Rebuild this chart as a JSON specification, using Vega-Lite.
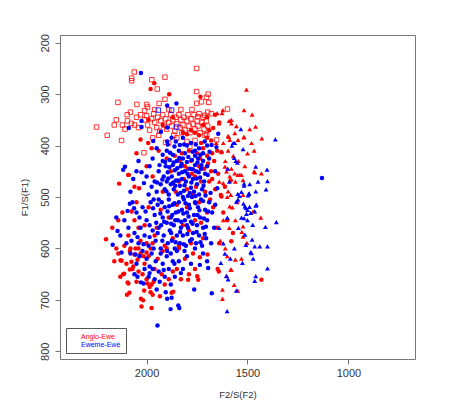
{
"$schema":"https://vega.github.io/schema/vega-lite/v6.json",
"width":355,"height":324,"autosize":"none",
"padding":{"left":60,"top":35,"right":37,"bottom":56},
"background":"white",
"config":{"font":"Liberation Sans","view":{"stroke":"#777","strokeWidth":1}},
"data":{"values":[
{"f2":2061,"f1":257,"g":"Anglo-Ewe","v":"i"},{"f2":2074,"f1":269,"g":"Anglo-Ewe","v":"i"},{"f2":2074,"f1":274,"g":"Anglo-Ewe","v":"i"},{"f2":1974,"f1":272,"g":"Anglo-Ewe","v":"i"},{"f2":1947,"f1":290,"g":"Anglo-Ewe","v":"i"},{"f2":1909,"f1":267,"g":"Anglo-Ewe","v":"i"},{"f2":1752,"f1":250,"g":"Anglo-Ewe","v":"i"},{"f2":1752,"f1":295,"g":"Anglo-Ewe","v":"i"},{"f2":1695,"f1":300,"g":"Anglo-Ewe","v":"i"},{"f2":1703,"f1":306,"g":"Anglo-Ewe","v":"i"},{"f2":1692,"f1":316,"g":"Anglo-Ewe","v":"i"},{"f2":1728,"f1":315,"g":"Anglo-Ewe","v":"i"},{"f2":1752,"f1":318,"g":"Anglo-Ewe","v":"i"},{"f2":2142,"f1":316,"g":"Anglo-Ewe","v":"i"},{"f2":2048,"f1":320,"g":"Anglo-Ewe","v":"i"},{"f2":2000,"f1":320,"g":"Anglo-Ewe","v":"i"},{"f2":1938,"f1":318,"g":"Anglo-Ewe","v":"i"},{"f2":1909,"f1":310,"g":"Anglo-Ewe","v":"i"},{"f2":1697,"f1":335,"g":"Anglo-Ewe","v":"i"},{"f2":1712,"f1":341,"g":"Anglo-Ewe","v":"i"},{"f2":1680,"f1":338,"g":"Anglo-Ewe","v":"i"},{"f2":1599,"f1":329,"g":"Anglo-Ewe","v":"i"},{"f2":2248,"f1":364,"g":"Anglo-Ewe","v":"i"},{"f2":2195,"f1":380,"g":"Anglo-Ewe","v":"i"},{"f2":2124,"f1":390,"g":"Anglo-Ewe","v":"i"},{"f2":2107,"f1":368,"g":"Anglo-Ewe","v":"i"},{"f2":2013,"f1":414,"g":"Anglo-Ewe","v":"i"},{"f2":1906,"f1":394,"g":"Anglo-Ewe","v":"i"},{"f2":1786,"f1":402,"g":"Anglo-Ewe","v":"i"},{"f2":1653,"f1":389,"g":"Anglo-Ewe","v":"i"},{"f2":1746,"f1":344,"g":"Anglo-Ewe","v":"i"},{"f2":1697,"f1":362,"g":"Anglo-Ewe","v":"i"},{"f2":1702,"f1":379,"g":"Anglo-Ewe","v":"i"},{"f2":2096,"f1":340,"g":"Anglo-Ewe","v":"i"},
{"f2":2095,"f1":352,"g":"Anglo-Ewe","v":"i"},{"f2":2075,"f1":357,"g":"Anglo-Ewe","v":"i"},{"f2":2060,"f1":360,"g":"Anglo-Ewe","v":"i"},{"f2":2050,"f1":345,"g":"Anglo-Ewe","v":"i"},{"f2":2040,"f1":365,"g":"Anglo-Ewe","v":"i"},{"f2":2030,"f1":340,"g":"Anglo-Ewe","v":"i"},{"f2":2010,"f1":350,"g":"Anglo-Ewe","v":"i"},{"f2":2000,"f1":342,"g":"Anglo-Ewe","v":"i"},{"f2":1995,"f1":360,"g":"Anglo-Ewe","v":"i"},{"f2":1985,"f1":370,"g":"Anglo-Ewe","v":"i"},{"f2":1975,"f1":348,"g":"Anglo-Ewe","v":"i"},{"f2":1965,"f1":338,"g":"Anglo-Ewe","v":"i"},{"f2":1960,"f1":355,"g":"Anglo-Ewe","v":"i"},{"f2":1950,"f1":365,"g":"Anglo-Ewe","v":"i"},{"f2":1945,"f1":345,"g":"Anglo-Ewe","v":"i"},{"f2":1935,"f1":372,"g":"Anglo-Ewe","v":"i"},{"f2":1930,"f1":352,"g":"Anglo-Ewe","v":"i"},{"f2":1920,"f1":340,"g":"Anglo-Ewe","v":"i"},{"f2":1915,"f1":360,"g":"Anglo-Ewe","v":"i"},{"f2":1905,"f1":348,"g":"Anglo-Ewe","v":"i"},{"f2":1900,"f1":368,"g":"Anglo-Ewe","v":"i"},{"f2":1890,"f1":355,"g":"Anglo-Ewe","v":"i"},{"f2":1880,"f1":340,"g":"Anglo-Ewe","v":"i"},{"f2":1875,"f1":362,"g":"Anglo-Ewe","v":"i"},{"f2":1870,"f1":350,"g":"Anglo-Ewe","v":"i"},{"f2":1860,"f1":372,"g":"Anglo-Ewe","v":"i"},{"f2":1855,"f1":345,"g":"Anglo-Ewe","v":"i"},{"f2":1850,"f1":358,"g":"Anglo-Ewe","v":"i"},{"f2":1840,"f1":340,"g":"Anglo-Ewe","v":"i"},{"f2":1835,"f1":365,"g":"Anglo-Ewe","v":"i"},{"f2":1830,"f1":350,"g":"Anglo-Ewe","v":"i"},{"f2":1820,"f1":360,"g":"Anglo-Ewe","v":"i"},{"f2":1815,"f1":345,"g":"Anglo-Ewe","v":"i"},{"f2":1810,"f1":370,"g":"Anglo-Ewe","v":"i"},{"f2":1800,"f1":352,"g":"Anglo-Ewe","v":"i"},{"f2":1795,"f1":340,"g":"Anglo-Ewe","v":"i"},{"f2":1790,"f1":362,"g":"Anglo-Ewe","v":"i"},{"f2":1785,"f1":375,"g":"Anglo-Ewe","v":"i"},{"f2":1780,"f1":348,"g":"Anglo-Ewe","v":"i"},{"f2":1770,"f1":358,"g":"Anglo-Ewe","v":"i"},{"f2":1765,"f1":340,"g":"Anglo-Ewe","v":"i"},{"f2":1760,"f1":368,"g":"Anglo-Ewe","v":"i"},{"f2":1750,"f1":352,"g":"Anglo-Ewe","v":"i"},{"f2":1745,"f1":362,"g":"Anglo-Ewe","v":"i"},{"f2":1740,"f1":338,"g":"Anglo-Ewe","v":"i"},{"f2":1735,"f1":375,"g":"Anglo-Ewe","v":"i"},{"f2":1725,"f1":355,"g":"Anglo-Ewe","v":"i"},{"f2":1720,"f1":345,"g":"Anglo-Ewe","v":"i"},{"f2":1715,"f1":368,"g":"Anglo-Ewe","v":"i"},{"f2":1710,"f1":380,"g":"Anglo-Ewe","v":"i"},{"f2":1705,"f1":352,"g":"Anglo-Ewe","v":"i"},{"f2":1960,"f1":330,"g":"Anglo-Ewe","v":"i"},{"f2":1890,"f1":330,"g":"Anglo-Ewe","v":"i"},{"f2":1830,"f1":330,"g":"Anglo-Ewe","v":"i"},{"f2":1775,"f1":330,"g":"Anglo-Ewe","v":"i"},{"f2":2080,"f1":335,"g":"Anglo-Ewe","v":"i"},{"f2":2010,"f1":332,"g":"Anglo-Ewe","v":"i"},{"f2":1850,"f1":385,"g":"Anglo-Ewe","v":"i"},{"f2":1800,"f1":392,"g":"Anglo-Ewe","v":"i"},{"f2":1760,"f1":390,"g":"Anglo-Ewe","v":"i"},{"f2":1890,"f1":395,"g":"Anglo-Ewe","v":"i"},{"f2":2150,"f1":350,"g":"Anglo-Ewe","v":"i"},{"f2":2160,"f1":360,"g":"Anglo-Ewe","v":"i"},{"f2":2120,"f1":360,"g":"Anglo-Ewe","v":"i"},{"f2":1995,"f1":325,"g":"Anglo-Ewe","v":"i"},{"f2":1825,"f1":375,"g":"Anglo-Ewe","v":"i"},{"f2":1865,"f1":380,"g":"Anglo-Ewe","v":"i"},{"f2":1940,"f1":380,"g":"Anglo-Ewe","v":"i"},{"f2":1970,"f1":385,"g":"Anglo-Ewe","v":"i"},
{"f2":1942,"f1":331,"g":"Eweme-Ewe","v":"i"},{"f2":1876,"f1":331,"g":"Eweme-Ewe","v":"i"},{"f2":1851,"f1":364,"g":"Eweme-Ewe","v":"i"},
{"f2":1962,"f1":279,"g":"Anglo-Ewe","v":"e"},{"f2":1888,"f1":300,"g":"Anglo-Ewe","v":"e"},{"f2":1733,"f1":305,"g":"Anglo-Ewe","v":"e"},{"f2":1980,"f1":290,"g":"Anglo-Ewe","v":"e"},{"f2":2050,"f1":415,"g":"Anglo-Ewe","v":"e"},{"f2":1992,"f1":395,"g":"Anglo-Ewe","v":"e"},{"f2":1975,"f1":405,"g":"Anglo-Ewe","v":"e"},{"f2":2030,"f1":388,"g":"Anglo-Ewe","v":"e"},{"f2":2091,"f1":457,"g":"Anglo-Ewe","v":"e"},{"f2":2136,"f1":474,"g":"Anglo-Ewe","v":"e"},{"f2":2037,"f1":483,"g":"Anglo-Ewe","v":"e"},{"f2":2088,"f1":457,"g":"Anglo-Ewe","v":"e"},{"f2":1670,"f1":366,"g":"Anglo-Ewe","v":"e"},{"f2":1700,"f1":345,"g":"Anglo-Ewe","v":"e"},{"f2":1720,"f1":360,"g":"Anglo-Ewe","v":"e"},{"f2":1690,"f1":370,"g":"Anglo-Ewe","v":"e"},{"f2":1740,"f1":380,"g":"Anglo-Ewe","v":"e"},{"f2":1760,"f1":375,"g":"Anglo-Ewe","v":"e"},{"f2":1780,"f1":370,"g":"Anglo-Ewe","v":"e"},{"f2":1700,"f1":385,"g":"Anglo-Ewe","v":"e"},{"f2":1680,"f1":390,"g":"Anglo-Ewe","v":"e"},{"f2":1730,"f1":395,"g":"Anglo-Ewe","v":"e"},{"f2":1800,"f1":378,"g":"Anglo-Ewe","v":"e"},{"f2":1820,"f1":375,"g":"Anglo-Ewe","v":"e"},{"f2":1640,"f1":355,"g":"Anglo-Ewe","v":"e"},{"f2":1660,"f1":340,"g":"Anglo-Ewe","v":"e"},{"f2":1920,"f1":360,"g":"Anglo-Ewe","v":"e"},{"f2":1870,"f1":345,"g":"Anglo-Ewe","v":"e"},{"f2":1990,"f1":350,"g":"Anglo-Ewe","v":"e"},
{"f2":1650,"f1":410,"g":"Anglo-Ewe","v":"e"},{"f2":1665,"f1":430,"g":"Anglo-Ewe","v":"e"},{"f2":1680,"f1":450,"g":"Anglo-Ewe","v":"e"},{"f2":1690,"f1":470,"g":"Anglo-Ewe","v":"e"},{"f2":1700,"f1":420,"g":"Anglo-Ewe","v":"e"},{"f2":1710,"f1":490,"g":"Anglo-Ewe","v":"e"},{"f2":1720,"f1":405,"g":"Anglo-Ewe","v":"e"},{"f2":1730,"f1":470,"g":"Anglo-Ewe","v":"e"},{"f2":1740,"f1":440,"g":"Anglo-Ewe","v":"e"},{"f2":1750,"f1":415,"g":"Anglo-Ewe","v":"e"},{"f2":1760,"f1":460,"g":"Anglo-Ewe","v":"e"},{"f2":1770,"f1":495,"g":"Anglo-Ewe","v":"e"},{"f2":1780,"f1":430,"g":"Anglo-Ewe","v":"e"},{"f2":1790,"f1":410,"g":"Anglo-Ewe","v":"e"},{"f2":1800,"f1":485,"g":"Anglo-Ewe","v":"e"},{"f2":1810,"f1":440,"g":"Anglo-Ewe","v":"e"},{"f2":1825,"f1":415,"g":"Anglo-Ewe","v":"e"},{"f2":1840,"f1":470,"g":"Anglo-Ewe","v":"e"},{"f2":1860,"f1":420,"g":"Anglo-Ewe","v":"e"},{"f2":1880,"f1":450,"g":"Anglo-Ewe","v":"e"},{"f2":1900,"f1":425,"g":"Anglo-Ewe","v":"e"},{"f2":1920,"f1":490,"g":"Anglo-Ewe","v":"e"},{"f2":1940,"f1":410,"g":"Anglo-Ewe","v":"e"},{"f2":1970,"f1":460,"g":"Anglo-Ewe","v":"e"},{"f2":2000,"f1":440,"g":"Anglo-Ewe","v":"e"},{"f2":2060,"f1":480,"g":"Anglo-Ewe","v":"e"},{"f2":1632,"f1":496,"g":"Anglo-Ewe","v":"e"},{"f2":1629,"f1":499,"g":"Anglo-Ewe","v":"e"},{"f2":1612,"f1":480,"g":"Anglo-Ewe","v":"e"},{"f2":1583,"f1":468,"g":"Anglo-Ewe","v":"e"},{"f2":1629,"f1":413,"g":"Anglo-Ewe","v":"e"},{"f2":1645,"f1":455,"g":"Anglo-Ewe","v":"e"},{"f2":1660,"f1":485,"g":"Anglo-Ewe","v":"e"},{"f2":1675,"f1":415,"g":"Anglo-Ewe","v":"e"},{"f2":1695,"f1":435,"g":"Anglo-Ewe","v":"e"},{"f2":1715,"f1":445,"g":"Anglo-Ewe","v":"e"},{"f2":1735,"f1":425,"g":"Anglo-Ewe","v":"e"},{"f2":1755,"f1":480,"g":"Anglo-Ewe","v":"e"},{"f2":1775,"f1":455,"g":"Anglo-Ewe","v":"e"},{"f2":1795,"f1":445,"g":"Anglo-Ewe","v":"e"},{"f2":1815,"f1":465,"g":"Anglo-Ewe","v":"e"},{"f2":1835,"f1":430,"g":"Anglo-Ewe","v":"e"},{"f2":1855,"f1":490,"g":"Anglo-Ewe","v":"e"},{"f2":1675,"f1":465,"g":"Anglo-Ewe","v":"e"},
{"f2":1700,"f1":530,"g":"Anglo-Ewe","v":"e"},{"f2":1720,"f1":580,"g":"Anglo-Ewe","v":"e"},{"f2":1740,"f1":510,"g":"Anglo-Ewe","v":"e"},{"f2":1760,"f1":545,"g":"Anglo-Ewe","v":"e"},{"f2":1780,"f1":590,"g":"Anglo-Ewe","v":"e"},{"f2":1800,"f1":520,"g":"Anglo-Ewe","v":"e"},{"f2":1820,"f1":555,"g":"Anglo-Ewe","v":"e"},{"f2":1850,"f1":515,"g":"Anglo-Ewe","v":"e"},{"f2":1870,"f1":580,"g":"Anglo-Ewe","v":"e"},{"f2":1890,"f1":540,"g":"Anglo-Ewe","v":"e"},{"f2":1910,"f1":595,"g":"Anglo-Ewe","v":"e"},{"f2":1930,"f1":525,"g":"Anglo-Ewe","v":"e"},{"f2":1950,"f1":560,"g":"Anglo-Ewe","v":"e"},{"f2":1970,"f1":590,"g":"Anglo-Ewe","v":"e"},{"f2":1990,"f1":520,"g":"Anglo-Ewe","v":"e"},{"f2":2010,"f1":555,"g":"Anglo-Ewe","v":"e"},{"f2":2030,"f1":585,"g":"Anglo-Ewe","v":"e"},{"f2":2050,"f1":510,"g":"Anglo-Ewe","v":"e"},{"f2":2074,"f1":528,"g":"Anglo-Ewe","v":"e"},{"f2":2060,"f1":545,"g":"Anglo-Ewe","v":"e"},{"f2":2090,"f1":575,"g":"Anglo-Ewe","v":"e"},{"f2":2110,"f1":595,"g":"Anglo-Ewe","v":"e"},{"f2":2120,"f1":530,"g":"Anglo-Ewe","v":"e"},{"f2":1650,"f1":560,"g":"Anglo-Ewe","v":"e"},{"f2":1670,"f1":520,"g":"Anglo-Ewe","v":"e"},{"f2":1640,"f1":590,"g":"Anglo-Ewe","v":"e"},{"f2":1620,"f1":530,"g":"Anglo-Ewe","v":"e"},{"f2":1600,"f1":545,"g":"Anglo-Ewe","v":"e"},{"f2":1572,"f1":570,"g":"Anglo-Ewe","v":"e"},{"f2":1580,"f1":586,"g":"Anglo-Ewe","v":"e"},{"f2":1685,"f1":505,"g":"Anglo-Ewe","v":"e"},{"f2":1730,"f1":550,"g":"Anglo-Ewe","v":"e"},{"f2":1790,"f1":565,"g":"Anglo-Ewe","v":"e"},{"f2":1840,"f1":595,"g":"Anglo-Ewe","v":"e"},{"f2":1960,"f1":575,"g":"Anglo-Ewe","v":"e"},{"f2":2000,"f1":590,"g":"Anglo-Ewe","v":"e"},{"f2":2040,"f1":560,"g":"Anglo-Ewe","v":"e"},{"f2":2080,"f1":600,"g":"Anglo-Ewe","v":"e"},{"f2":2170,"f1":560,"g":"Anglo-Ewe","v":"e"},{"f2":2140,"f1":545,"g":"Anglo-Ewe","v":"e"},
{"f2":2201,"f1":582,"g":"Anglo-Ewe","v":"e"},{"f2":2129,"f1":623,"g":"Anglo-Ewe","v":"e"},{"f2":2116,"f1":650,"g":"Anglo-Ewe","v":"e"},{"f2":2094,"f1":666,"g":"Anglo-Ewe","v":"e"},{"f2":2097,"f1":690,"g":"Anglo-Ewe","v":"e"},{"f2":2085,"f1":686,"g":"Anglo-Ewe","v":"e"},{"f2":2028,"f1":698,"g":"Anglo-Ewe","v":"e"},{"f2":2025,"f1":713,"g":"Anglo-Ewe","v":"e"},{"f2":1975,"f1":716,"g":"Anglo-Ewe","v":"e"},{"f2":1934,"f1":693,"g":"Anglo-Ewe","v":"e"},{"f2":1876,"f1":686,"g":"Anglo-Ewe","v":"e"},{"f2":1794,"f1":661,"g":"Anglo-Ewe","v":"e"},{"f2":2111,"f1":649,"g":"Anglo-Ewe","v":"e"},{"f2":2083,"f1":641,"g":"Anglo-Ewe","v":"e"},{"f2":2066,"f1":635,"g":"Anglo-Ewe","v":"e"},{"f2":2012,"f1":682,"g":"Anglo-Ewe","v":"e"},{"f2":1975,"f1":670,"g":"Anglo-Ewe","v":"e"},{"f2":1965,"f1":665,"g":"Anglo-Ewe","v":"e"},{"f2":1985,"f1":675,"g":"Anglo-Ewe","v":"e"},{"f2":1995,"f1":668,"g":"Anglo-Ewe","v":"e"},{"f2":1970,"f1":690,"g":"Anglo-Ewe","v":"e"},{"f2":1980,"f1":685,"g":"Anglo-Ewe","v":"e"},{"f2":2017,"f1":701,"g":"Anglo-Ewe","v":"e"},{"f2":1868,"f1":684,"g":"Anglo-Ewe","v":"e"},{"f2":1749,"f1":654,"g":"Anglo-Ewe","v":"e"},{"f2":1744,"f1":661,"g":"Anglo-Ewe","v":"e"},{"f2":1736,"f1":617,"g":"Anglo-Ewe","v":"e"},{"f2":1698,"f1":612,"g":"Anglo-Ewe","v":"e"},{"f2":1642,"f1":645,"g":"Anglo-Ewe","v":"e"},{"f2":1648,"f1":640,"g":"Anglo-Ewe","v":"e"},{"f2":2000,"f1":608,"g":"Anglo-Ewe","v":"e"},{"f2":2015,"f1":615,"g":"Anglo-Ewe","v":"e"},{"f2":2030,"f1":610,"g":"Anglo-Ewe","v":"e"},{"f2":2045,"f1":622,"g":"Anglo-Ewe","v":"e"},{"f2":2060,"f1":612,"g":"Anglo-Ewe","v":"e"},{"f2":2075,"f1":626,"g":"Anglo-Ewe","v":"e"},{"f2":2083,"f1":605,"g":"Anglo-Ewe","v":"e"},{"f2":2040,"f1":600,"g":"Anglo-Ewe","v":"e"},{"f2":2010,"f1":630,"g":"Anglo-Ewe","v":"e"},{"f2":1990,"f1":615,"g":"Anglo-Ewe","v":"e"},{"f2":1980,"f1":600,"g":"Anglo-Ewe","v":"e"},{"f2":2055,"f1":600,"g":"Anglo-Ewe","v":"e"},{"f2":2070,"f1":640,"g":"Anglo-Ewe","v":"e"},{"f2":2040,"f1":645,"g":"Anglo-Ewe","v":"e"},{"f2":2020,"f1":650,"g":"Anglo-Ewe","v":"e"},{"f2":2000,"f1":660,"g":"Anglo-Ewe","v":"e"},{"f2":2050,"f1":665,"g":"Anglo-Ewe","v":"e"},{"f2":2100,"f1":630,"g":"Anglo-Ewe","v":"e"},{"f2":2140,"f1":610,"g":"Anglo-Ewe","v":"e"},{"f2":2150,"f1":600,"g":"Anglo-Ewe","v":"e"},{"f2":2160,"f1":625,"g":"Anglo-Ewe","v":"e"},{"f2":2130,"f1":655,"g":"Anglo-Ewe","v":"e"},{"f2":2090,"f1":668,"g":"Anglo-Ewe","v":"e"},{"f2":1960,"f1":640,"g":"Anglo-Ewe","v":"e"},{"f2":1945,"f1":620,"g":"Anglo-Ewe","v":"e"},{"f2":1925,"f1":650,"g":"Anglo-Ewe","v":"e"},{"f2":1910,"f1":670,"g":"Anglo-Ewe","v":"e"},{"f2":1890,"f1":660,"g":"Anglo-Ewe","v":"e"},{"f2":1870,"f1":645,"g":"Anglo-Ewe","v":"e"},{"f2":1850,"f1":640,"g":"Anglo-Ewe","v":"e"},{"f2":1830,"f1":660,"g":"Anglo-Ewe","v":"e"},{"f2":1920,"f1":605,"g":"Anglo-Ewe","v":"e"},{"f2":1900,"f1":600,"g":"Anglo-Ewe","v":"e"},{"f2":1840,"f1":600,"g":"Anglo-Ewe","v":"e"},{"f2":1810,"f1":620,"g":"Anglo-Ewe","v":"e"},{"f2":1790,"f1":650,"g":"Anglo-Ewe","v":"e"},{"f2":1770,"f1":610,"g":"Anglo-Ewe","v":"e"},{"f2":1760,"f1":640,"g":"Anglo-Ewe","v":"e"},{"f2":2124,"f1":624,"g":"Anglo-Ewe","v":"e"},{"f2":1431,"f1":661,"g":"Anglo-Ewe","v":"e"},
{"f2":1505,"f1":291,"g":"Anglo-Ewe","v":"a"},{"f2":1517,"f1":331,"g":"Anglo-Ewe","v":"a"},{"f2":1477,"f1":340,"g":"Anglo-Ewe","v":"a"},{"f2":1460,"f1":363,"g":"Anglo-Ewe","v":"a"},{"f2":1489,"f1":368,"g":"Anglo-Ewe","v":"a"},{"f2":1429,"f1":386,"g":"Anglo-Ewe","v":"a"},{"f2":1467,"f1":410,"g":"Anglo-Ewe","v":"a"},{"f2":1563,"f1":376,"g":"Anglo-Ewe","v":"a"},{"f2":1596,"f1":381,"g":"Anglo-Ewe","v":"a"},{"f2":1588,"f1":389,"g":"Anglo-Ewe","v":"a"},{"f2":1547,"f1":389,"g":"Anglo-Ewe","v":"a"},{"f2":1596,"f1":410,"g":"Anglo-Ewe","v":"a"},{"f2":1629,"f1":412,"g":"Anglo-Ewe","v":"a"},{"f2":1641,"f1":357,"g":"Anglo-Ewe","v":"a"},{"f2":1650,"f1":337,"g":"Anglo-Ewe","v":"a"},{"f2":1626,"f1":337,"g":"Anglo-Ewe","v":"a"},{"f2":1591,"f1":352,"g":"Anglo-Ewe","v":"a"},{"f2":1580,"f1":357,"g":"Anglo-Ewe","v":"a"},{"f2":1517,"f1":384,"g":"Anglo-Ewe","v":"a"},{"f2":1467,"f1":450,"g":"Anglo-Ewe","v":"a"},{"f2":1431,"f1":454,"g":"Anglo-Ewe","v":"a"},{"f2":1464,"f1":452,"g":"Anglo-Ewe","v":"a"},{"f2":1538,"f1":457,"g":"Anglo-Ewe","v":"a"},{"f2":1522,"f1":467,"g":"Anglo-Ewe","v":"a"},{"f2":1522,"f1":496,"g":"Anglo-Ewe","v":"a"},{"f2":1513,"f1":440,"g":"Anglo-Ewe","v":"a"},{"f2":1434,"f1":540,"g":"Anglo-Ewe","v":"a"},{"f2":1522,"f1":557,"g":"Anglo-Ewe","v":"a"},{"f2":1528,"f1":568,"g":"Anglo-Ewe","v":"a"},{"f2":1522,"f1":577,"g":"Anglo-Ewe","v":"a"},{"f2":1503,"f1":589,"g":"Anglo-Ewe","v":"a"},{"f2":1580,"f1":641,"g":"Anglo-Ewe","v":"a"},{"f2":1566,"f1":671,"g":"Anglo-Ewe","v":"a"},{"f2":1548,"f1":682,"g":"Anglo-Ewe","v":"a"},{"f2":1624,"f1":680,"g":"Anglo-Ewe","v":"a"},{"f2":1624,"f1":698,"g":"Anglo-Ewe","v":"a"},{"f2":1583,"f1":641,"g":"Anglo-Ewe","v":"a"},{"f2":1560,"f1":622,"g":"Anglo-Ewe","v":"a"},{"f2":1530,"f1":620,"g":"Anglo-Ewe","v":"a"},{"f2":1604,"f1":653,"g":"Anglo-Ewe","v":"a"},{"f2":1610,"f1":430,"g":"Anglo-Ewe","v":"a"},{"f2":1580,"f1":445,"g":"Anglo-Ewe","v":"a"},{"f2":1560,"f1":470,"g":"Anglo-Ewe","v":"a"},{"f2":1600,"f1":500,"g":"Anglo-Ewe","v":"a"},{"f2":1575,"f1":520,"g":"Anglo-Ewe","v":"a"},{"f2":1550,"f1":510,"g":"Anglo-Ewe","v":"a"},{"f2":1620,"f1":545,"g":"Anglo-Ewe","v":"a"},{"f2":1590,"f1":560,"g":"Anglo-Ewe","v":"a"},{"f2":1560,"f1":545,"g":"Anglo-Ewe","v":"a"},{"f2":1640,"f1":470,"g":"Anglo-Ewe","v":"a"},{"f2":1655,"f1":395,"g":"Anglo-Ewe","v":"a"},{"f2":1620,"f1":395,"g":"Anglo-Ewe","v":"a"},{"f2":1570,"f1":420,"g":"Anglo-Ewe","v":"a"},{"f2":1545,"f1":430,"g":"Anglo-Ewe","v":"a"},{"f2":1500,"f1":415,"g":"Anglo-Ewe","v":"a"},{"f2":1480,"f1":395,"g":"Anglo-Ewe","v":"a"},{"f2":1580,"f1":350,"g":"Anglo-Ewe","v":"a"},{"f2":1555,"f1":362,"g":"Anglo-Ewe","v":"a"},{"f2":1593,"f1":383,"g":"Anglo-Ewe","v":"a"},{"f2":1612,"f1":441,"g":"Anglo-Ewe","v":"a"},{"f2":1604,"f1":450,"g":"Anglo-Ewe","v":"a"},{"f2":1588,"f1":460,"g":"Anglo-Ewe","v":"a"},{"f2":1563,"f1":454,"g":"Anglo-Ewe","v":"a"},{"f2":1548,"f1":457,"g":"Anglo-Ewe","v":"a"},{"f2":1530,"f1":457,"g":"Anglo-Ewe","v":"a"},{"f2":1620,"f1":473,"g":"Anglo-Ewe","v":"a"},{"f2":1596,"f1":489,"g":"Anglo-Ewe","v":"a"},{"f2":1583,"f1":496,"g":"Anglo-Ewe","v":"a"},{"f2":1588,"f1":518,"g":"Anglo-Ewe","v":"a"},{"f2":1472,"f1":528,"g":"Anglo-Ewe","v":"a"},{"f2":1622,"f1":331,"g":"Anglo-Ewe","v":"a"},{"f2":1518,"f1":383,"g":"Anglo-Ewe","v":"a"},{"f2":1610,"f1":600,"g":"Anglo-Ewe","v":"a"},{"f2":1635,"f1":585,"g":"Anglo-Ewe","v":"a"},{"f2":1600,"f1":615,"g":"Anglo-Ewe","v":"a"},
{"f2":2028,"f1":259,"g":"Eweme-Ewe","v":"e"},{"f2":1898,"f1":322,"g":"Eweme-Ewe","v":"e"},{"f2":1852,"f1":318,"g":"Eweme-Ewe","v":"e"},{"f2":2025,"f1":352,"g":"Eweme-Ewe","v":"e"},{"f2":2025,"f1":364,"g":"Eweme-Ewe","v":"e"},{"f2":2088,"f1":366,"g":"Eweme-Ewe","v":"e"},{"f2":1898,"f1":365,"g":"Eweme-Ewe","v":"e"},{"f2":1929,"f1":373,"g":"Eweme-Ewe","v":"e"},{"f2":1967,"f1":391,"g":"Eweme-Ewe","v":"e"},{"f2":1898,"f1":392,"g":"Eweme-Ewe","v":"e"},{"f2":1876,"f1":385,"g":"Eweme-Ewe","v":"e"},{"f2":1855,"f1":392,"g":"Eweme-Ewe","v":"e"},{"f2":1835,"f1":399,"g":"Eweme-Ewe","v":"e"},{"f2":1950,"f1":405,"g":"Eweme-Ewe","v":"e"},{"f2":1820,"f1":385,"g":"Eweme-Ewe","v":"e"},{"f2":1800,"f1":400,"g":"Eweme-Ewe","v":"e"},{"f2":1780,"f1":395,"g":"Eweme-Ewe","v":"e"},{"f2":1760,"f1":410,"g":"Eweme-Ewe","v":"e"},{"f2":1740,"f1":405,"g":"Eweme-Ewe","v":"e"},{"f2":1720,"f1":415,"g":"Eweme-Ewe","v":"e"},{"f2":1700,"f1":400,"g":"Eweme-Ewe","v":"e"},{"f2":1678,"f1":399,"g":"Eweme-Ewe","v":"e"},{"f2":1654,"f1":403,"g":"Eweme-Ewe","v":"e"},{"f2":1645,"f1":377,"g":"Eweme-Ewe","v":"e"},{"f2":1810,"f1":415,"g":"Eweme-Ewe","v":"e"},{"f2":1840,"f1":410,"g":"Eweme-Ewe","v":"e"},{"f2":1870,"f1":418,"g":"Eweme-Ewe","v":"e"},{"f2":1900,"f1":410,"g":"Eweme-Ewe","v":"e"},{"f2":1920,"f1":418,"g":"Eweme-Ewe","v":"e"},
{"f2":1712,"f1":392,"g":"Eweme-Ewe","v":"e"},{"f2":1733,"f1":418,"g":"Eweme-Ewe","v":"e"},{"f2":1756,"f1":398,"g":"Eweme-Ewe","v":"e"},{"f2":1772,"f1":412,"g":"Eweme-Ewe","v":"e"},{"f2":1793,"f1":422,"g":"Eweme-Ewe","v":"e"},{"f2":1814,"f1":398,"g":"Eweme-Ewe","v":"e"},{"f2":1838,"f1":424,"g":"Eweme-Ewe","v":"e"},{"f2":1862,"f1":402,"g":"Eweme-Ewe","v":"e"},{"f2":1884,"f1":414,"g":"Eweme-Ewe","v":"e"},{"f2":1908,"f1":432,"g":"Eweme-Ewe","v":"e"},{"f2":1688,"f1":412,"g":"Eweme-Ewe","v":"e"},{"f2":1748,"f1":433,"g":"Eweme-Ewe","v":"e"},{"f2":1826,"f1":436,"g":"Eweme-Ewe","v":"e"},{"f2":1866,"f1":433,"g":"Eweme-Ewe","v":"e"},{"f2":1895,"f1":398,"g":"Eweme-Ewe","v":"e"},
{"f2":1690,"f1":425,"g":"Eweme-Ewe","v":"e"},{"f2":1700,"f1":440,"g":"Eweme-Ewe","v":"e"},{"f2":1710,"f1":455,"g":"Eweme-Ewe","v":"e"},{"f2":1715,"f1":470,"g":"Eweme-Ewe","v":"e"},{"f2":1720,"f1":430,"g":"Eweme-Ewe","v":"e"},{"f2":1725,"f1":485,"g":"Eweme-Ewe","v":"e"},{"f2":1730,"f1":445,"g":"Eweme-Ewe","v":"e"},{"f2":1735,"f1":462,"g":"Eweme-Ewe","v":"e"},{"f2":1740,"f1":495,"g":"Eweme-Ewe","v":"e"},{"f2":1745,"f1":425,"g":"Eweme-Ewe","v":"e"},{"f2":1750,"f1":475,"g":"Eweme-Ewe","v":"e"},{"f2":1755,"f1":450,"g":"Eweme-Ewe","v":"e"},{"f2":1760,"f1":438,"g":"Eweme-Ewe","v":"e"},{"f2":1765,"f1":490,"g":"Eweme-Ewe","v":"e"},{"f2":1770,"f1":465,"g":"Eweme-Ewe","v":"e"},{"f2":1775,"f1":428,"g":"Eweme-Ewe","v":"e"},{"f2":1780,"f1":482,"g":"Eweme-Ewe","v":"e"},{"f2":1785,"f1":445,"g":"Eweme-Ewe","v":"e"},{"f2":1790,"f1":460,"g":"Eweme-Ewe","v":"e"},{"f2":1795,"f1":498,"g":"Eweme-Ewe","v":"e"},{"f2":1800,"f1":432,"g":"Eweme-Ewe","v":"e"},{"f2":1805,"f1":470,"g":"Eweme-Ewe","v":"e"},{"f2":1810,"f1":450,"g":"Eweme-Ewe","v":"e"},{"f2":1815,"f1":488,"g":"Eweme-Ewe","v":"e"},{"f2":1820,"f1":425,"g":"Eweme-Ewe","v":"e"},{"f2":1825,"f1":465,"g":"Eweme-Ewe","v":"e"},{"f2":1830,"f1":440,"g":"Eweme-Ewe","v":"e"},{"f2":1835,"f1":478,"g":"Eweme-Ewe","v":"e"},{"f2":1840,"f1":455,"g":"Eweme-Ewe","v":"e"},{"f2":1845,"f1":495,"g":"Eweme-Ewe","v":"e"},{"f2":1850,"f1":430,"g":"Eweme-Ewe","v":"e"},{"f2":1855,"f1":468,"g":"Eweme-Ewe","v":"e"},{"f2":1860,"f1":448,"g":"Eweme-Ewe","v":"e"},{"f2":1865,"f1":485,"g":"Eweme-Ewe","v":"e"},{"f2":1870,"f1":438,"g":"Eweme-Ewe","v":"e"},{"f2":1875,"f1":460,"g":"Eweme-Ewe","v":"e"},{"f2":1880,"f1":475,"g":"Eweme-Ewe","v":"e"},{"f2":1885,"f1":428,"g":"Eweme-Ewe","v":"e"},{"f2":1890,"f1":495,"g":"Eweme-Ewe","v":"e"},{"f2":1895,"f1":452,"g":"Eweme-Ewe","v":"e"},{"f2":1900,"f1":470,"g":"Eweme-Ewe","v":"e"},{"f2":1905,"f1":440,"g":"Eweme-Ewe","v":"e"},{"f2":1910,"f1":485,"g":"Eweme-Ewe","v":"e"},{"f2":1915,"f1":460,"g":"Eweme-Ewe","v":"e"},{"f2":1920,"f1":430,"g":"Eweme-Ewe","v":"e"},{"f2":1930,"f1":475,"g":"Eweme-Ewe","v":"e"},{"f2":1940,"f1":450,"g":"Eweme-Ewe","v":"e"},{"f2":1950,"f1":490,"g":"Eweme-Ewe","v":"e"},{"f2":1760,"f1":420,"g":"Eweme-Ewe","v":"e"},{"f2":1820,"f1":500,"g":"Eweme-Ewe","v":"e"},{"f2":2107,"f1":441,"g":"Eweme-Ewe","v":"e"},{"f2":2116,"f1":447,"g":"Eweme-Ewe","v":"e"},{"f2":2066,"f1":465,"g":"Eweme-Ewe","v":"e"},{"f2":2050,"f1":450,"g":"Eweme-Ewe","v":"e"},{"f2":2013,"f1":473,"g":"Eweme-Ewe","v":"e"},{"f2":2025,"f1":452,"g":"Eweme-Ewe","v":"e"},{"f2":2000,"f1":460,"g":"Eweme-Ewe","v":"e"},{"f2":1985,"f1":440,"g":"Eweme-Ewe","v":"e"},{"f2":1975,"f1":480,"g":"Eweme-Ewe","v":"e"},{"f2":1960,"f1":470,"g":"Eweme-Ewe","v":"e"},{"f2":1990,"f1":495,"g":"Eweme-Ewe","v":"e"},{"f2":2080,"f1":490,"g":"Eweme-Ewe","v":"e"},{"f2":2040,"f1":430,"g":"Eweme-Ewe","v":"e"},{"f2":1970,"f1":425,"g":"Eweme-Ewe","v":"e"},{"f2":1650,"f1":483,"g":"Eweme-Ewe","v":"e"},{"f2":1660,"f1":450,"g":"Eweme-Ewe","v":"e"},
{"f2":1697,"f1":457,"g":"Eweme-Ewe","v":"e"},{"f2":1718,"f1":478,"g":"Eweme-Ewe","v":"e"},{"f2":1742,"f1":452,"g":"Eweme-Ewe","v":"e"},{"f2":1758,"f1":498,"g":"Eweme-Ewe","v":"e"},{"f2":1778,"f1":472,"g":"Eweme-Ewe","v":"e"},{"f2":1797,"f1":455,"g":"Eweme-Ewe","v":"e"},{"f2":1812,"f1":477,"g":"Eweme-Ewe","v":"e"},{"f2":1832,"f1":492,"g":"Eweme-Ewe","v":"e"},{"f2":1848,"f1":444,"g":"Eweme-Ewe","v":"e"},{"f2":1868,"f1":472,"g":"Eweme-Ewe","v":"e"},{"f2":1887,"f1":442,"g":"Eweme-Ewe","v":"e"},{"f2":1902,"f1":489,"g":"Eweme-Ewe","v":"e"},{"f2":1922,"f1":466,"g":"Eweme-Ewe","v":"e"},{"f2":1936,"f1":438,"g":"Eweme-Ewe","v":"e"},{"f2":1708,"f1":497,"g":"Eweme-Ewe","v":"e"},{"f2":1752,"f1":464,"g":"Eweme-Ewe","v":"e"},{"f2":1786,"f1":492,"g":"Eweme-Ewe","v":"e"},{"f2":1824,"f1":452,"g":"Eweme-Ewe","v":"e"},{"f2":1858,"f1":478,"g":"Eweme-Ewe","v":"e"},{"f2":1893,"f1":464,"g":"Eweme-Ewe","v":"e"},{"f2":1728,"f1":438,"g":"Eweme-Ewe","v":"e"},{"f2":1771,"f1":446,"g":"Eweme-Ewe","v":"e"},{"f2":1844,"f1":468,"g":"Eweme-Ewe","v":"e"},{"f2":1683,"f1":492,"g":"Eweme-Ewe","v":"e"},{"f2":1948,"f1":472,"g":"Eweme-Ewe","v":"e"},
{"f2":1690,"f1":510,"g":"Eweme-Ewe","v":"e"},{"f2":1700,"f1":545,"g":"Eweme-Ewe","v":"e"},{"f2":1705,"f1":580,"g":"Eweme-Ewe","v":"e"},{"f2":1710,"f1":525,"g":"Eweme-Ewe","v":"e"},{"f2":1720,"f1":560,"g":"Eweme-Ewe","v":"e"},{"f2":1725,"f1":595,"g":"Eweme-Ewe","v":"e"},{"f2":1730,"f1":505,"g":"Eweme-Ewe","v":"e"},{"f2":1735,"f1":540,"g":"Eweme-Ewe","v":"e"},{"f2":1740,"f1":575,"g":"Eweme-Ewe","v":"e"},{"f2":1745,"f1":520,"g":"Eweme-Ewe","v":"e"},{"f2":1750,"f1":555,"g":"Eweme-Ewe","v":"e"},{"f2":1755,"f1":590,"g":"Eweme-Ewe","v":"e"},{"f2":1760,"f1":510,"g":"Eweme-Ewe","v":"e"},{"f2":1765,"f1":535,"g":"Eweme-Ewe","v":"e"},{"f2":1770,"f1":570,"g":"Eweme-Ewe","v":"e"},{"f2":1775,"f1":500,"g":"Eweme-Ewe","v":"e"},{"f2":1780,"f1":548,"g":"Eweme-Ewe","v":"e"},{"f2":1785,"f1":585,"g":"Eweme-Ewe","v":"e"},{"f2":1790,"f1":515,"g":"Eweme-Ewe","v":"e"},{"f2":1795,"f1":560,"g":"Eweme-Ewe","v":"e"},{"f2":1800,"f1":530,"g":"Eweme-Ewe","v":"e"},{"f2":1805,"f1":595,"g":"Eweme-Ewe","v":"e"},{"f2":1810,"f1":545,"g":"Eweme-Ewe","v":"e"},{"f2":1815,"f1":505,"g":"Eweme-Ewe","v":"e"},{"f2":1820,"f1":575,"g":"Eweme-Ewe","v":"e"},{"f2":1825,"f1":525,"g":"Eweme-Ewe","v":"e"},{"f2":1830,"f1":560,"g":"Eweme-Ewe","v":"e"},{"f2":1835,"f1":590,"g":"Eweme-Ewe","v":"e"},{"f2":1840,"f1":510,"g":"Eweme-Ewe","v":"e"},{"f2":1845,"f1":545,"g":"Eweme-Ewe","v":"e"},{"f2":1850,"f1":575,"g":"Eweme-Ewe","v":"e"},{"f2":1855,"f1":530,"g":"Eweme-Ewe","v":"e"},{"f2":1860,"f1":600,"g":"Eweme-Ewe","v":"e"},{"f2":1865,"f1":555,"g":"Eweme-Ewe","v":"e"},{"f2":1870,"f1":515,"g":"Eweme-Ewe","v":"e"},{"f2":1875,"f1":585,"g":"Eweme-Ewe","v":"e"},{"f2":1880,"f1":540,"g":"Eweme-Ewe","v":"e"},{"f2":1885,"f1":565,"g":"Eweme-Ewe","v":"e"},{"f2":1890,"f1":505,"g":"Eweme-Ewe","v":"e"},{"f2":1895,"f1":590,"g":"Eweme-Ewe","v":"e"},{"f2":1900,"f1":550,"g":"Eweme-Ewe","v":"e"},{"f2":1910,"f1":520,"g":"Eweme-Ewe","v":"e"},{"f2":1915,"f1":575,"g":"Eweme-Ewe","v":"e"},{"f2":1920,"f1":540,"g":"Eweme-Ewe","v":"e"},{"f2":1930,"f1":600,"g":"Eweme-Ewe","v":"e"},{"f2":1940,"f1":560,"g":"Eweme-Ewe","v":"e"},{"f2":1945,"f1":515,"g":"Eweme-Ewe","v":"e"},{"f2":1955,"f1":585,"g":"Eweme-Ewe","v":"e"},{"f2":1960,"f1":535,"g":"Eweme-Ewe","v":"e"},{"f2":1970,"f1":565,"g":"Eweme-Ewe","v":"e"},{"f2":1980,"f1":510,"g":"Eweme-Ewe","v":"e"},{"f2":1990,"f1":595,"g":"Eweme-Ewe","v":"e"},{"f2":2000,"f1":545,"g":"Eweme-Ewe","v":"e"},{"f2":2010,"f1":575,"g":"Eweme-Ewe","v":"e"},{"f2":2020,"f1":520,"g":"Eweme-Ewe","v":"e"},{"f2":2030,"f1":560,"g":"Eweme-Ewe","v":"e"},{"f2":2040,"f1":590,"g":"Eweme-Ewe","v":"e"},{"f2":2050,"f1":530,"g":"Eweme-Ewe","v":"e"},{"f2":2060,"f1":570,"g":"Eweme-Ewe","v":"e"},{"f2":2070,"f1":510,"g":"Eweme-Ewe","v":"e"},{"f2":2083,"f1":513,"g":"Eweme-Ewe","v":"e"},{"f2":2094,"f1":527,"g":"Eweme-Ewe","v":"e"},{"f2":2090,"f1":560,"g":"Eweme-Ewe","v":"e"},{"f2":2100,"f1":590,"g":"Eweme-Ewe","v":"e"},{"f2":2110,"f1":545,"g":"Eweme-Ewe","v":"e"},{"f2":2130,"f1":575,"g":"Eweme-Ewe","v":"e"},{"f2":2144,"f1":566,"g":"Eweme-Ewe","v":"e"},{"f2":2168,"f1":593,"g":"Eweme-Ewe","v":"e"},{"f2":2124,"f1":608,"g":"Eweme-Ewe","v":"e"},{"f2":2150,"f1":540,"g":"Eweme-Ewe","v":"e"},{"f2":1985,"f1":555,"g":"Eweme-Ewe","v":"e"},{"f2":1965,"f1":505,"g":"Eweme-Ewe","v":"e"},{"f2":1925,"f1":510,"g":"Eweme-Ewe","v":"e"},{"f2":1675,"f1":530,"g":"Eweme-Ewe","v":"e"},{"f2":1665,"f1":560,"g":"Eweme-Ewe","v":"e"},{"f2":1680,"f1":590,"g":"Eweme-Ewe","v":"e"},{"f2":1660,"f1":515,"g":"Eweme-Ewe","v":"e"},
{"f2":1695,"f1":528,"g":"Eweme-Ewe","v":"e"},{"f2":1716,"f1":542,"g":"Eweme-Ewe","v":"e"},{"f2":1738,"f1":526,"g":"Eweme-Ewe","v":"e"},{"f2":1757,"f1":512,"g":"Eweme-Ewe","v":"e"},{"f2":1772,"f1":552,"g":"Eweme-Ewe","v":"e"},{"f2":1792,"f1":538,"g":"Eweme-Ewe","v":"e"},{"f2":1807,"f1":512,"g":"Eweme-Ewe","v":"e"},{"f2":1828,"f1":548,"g":"Eweme-Ewe","v":"e"},{"f2":1842,"f1":528,"g":"Eweme-Ewe","v":"e"},{"f2":1862,"f1":512,"g":"Eweme-Ewe","v":"e"},{"f2":1878,"f1":552,"g":"Eweme-Ewe","v":"e"},{"f2":1896,"f1":528,"g":"Eweme-Ewe","v":"e"},{"f2":1913,"f1":548,"g":"Eweme-Ewe","v":"e"},{"f2":1932,"f1":532,"g":"Eweme-Ewe","v":"e"},{"f2":1952,"f1":550,"g":"Eweme-Ewe","v":"e"},{"f2":1706,"f1":558,"g":"Eweme-Ewe","v":"e"},{"f2":1748,"f1":535,"g":"Eweme-Ewe","v":"e"},{"f2":1786,"f1":522,"g":"Eweme-Ewe","v":"e"},{"f2":1818,"f1":532,"g":"Eweme-Ewe","v":"e"},{"f2":1858,"f1":545,"g":"Eweme-Ewe","v":"e"},{"f2":1888,"f1":518,"g":"Eweme-Ewe","v":"e"},{"f2":1928,"f1":555,"g":"Eweme-Ewe","v":"e"},{"f2":1968,"f1":522,"g":"Eweme-Ewe","v":"e"},{"f2":2005,"f1":528,"g":"Eweme-Ewe","v":"e"},{"f2":2035,"f1":540,"g":"Eweme-Ewe","v":"e"},{"f2":2062,"f1":522,"g":"Eweme-Ewe","v":"e"},{"f2":1720,"f1":508,"g":"Eweme-Ewe","v":"e"},{"f2":1800,"f1":555,"g":"Eweme-Ewe","v":"e"},{"f2":1873,"f1":535,"g":"Eweme-Ewe","v":"e"},{"f2":1940,"f1":505,"g":"Eweme-Ewe","v":"e"},
{"f2":1712,"f1":572,"g":"Eweme-Ewe","v":"e"},{"f2":1733,"f1":588,"g":"Eweme-Ewe","v":"e"},{"f2":1752,"f1":568,"g":"Eweme-Ewe","v":"e"},{"f2":1776,"f1":582,"g":"Eweme-Ewe","v":"e"},{"f2":1798,"f1":572,"g":"Eweme-Ewe","v":"e"},{"f2":1816,"f1":592,"g":"Eweme-Ewe","v":"e"},{"f2":1834,"f1":568,"g":"Eweme-Ewe","v":"e"},{"f2":1856,"f1":588,"g":"Eweme-Ewe","v":"e"},{"f2":1878,"f1":570,"g":"Eweme-Ewe","v":"e"},{"f2":1898,"f1":605,"g":"Eweme-Ewe","v":"e"},{"f2":1922,"f1":585,"g":"Eweme-Ewe","v":"e"},{"f2":1945,"f1":570,"g":"Eweme-Ewe","v":"e"},{"f2":1965,"f1":600,"g":"Eweme-Ewe","v":"e"},{"f2":1985,"f1":578,"g":"Eweme-Ewe","v":"e"},{"f2":2015,"f1":592,"g":"Eweme-Ewe","v":"e"},{"f2":2045,"f1":578,"g":"Eweme-Ewe","v":"e"},{"f2":2075,"f1":585,"g":"Eweme-Ewe","v":"e"},{"f2":1880,"f1":610,"g":"Eweme-Ewe","v":"e"},{"f2":1812,"f1":605,"g":"Eweme-Ewe","v":"e"},{"f2":1760,"f1":600,"g":"Eweme-Ewe","v":"e"},{"f2":2055,"f1":612,"g":"Eweme-Ewe","v":"e"},{"f2":2020,"f1":605,"g":"Eweme-Ewe","v":"e"},
{"f2":1850,"f1":605,"g":"Eweme-Ewe","v":"e"},{"f2":1870,"f1":625,"g":"Eweme-Ewe","v":"e"},{"f2":1890,"f1":640,"g":"Eweme-Ewe","v":"e"},{"f2":1900,"f1":615,"g":"Eweme-Ewe","v":"e"},{"f2":1910,"f1":655,"g":"Eweme-Ewe","v":"e"},{"f2":1920,"f1":630,"g":"Eweme-Ewe","v":"e"},{"f2":1930,"f1":610,"g":"Eweme-Ewe","v":"e"},{"f2":1940,"f1":645,"g":"Eweme-Ewe","v":"e"},{"f2":1950,"f1":680,"g":"Eweme-Ewe","v":"e"},{"f2":1955,"f1":625,"g":"Eweme-Ewe","v":"e"},{"f2":1960,"f1":660,"g":"Eweme-Ewe","v":"e"},{"f2":1970,"f1":640,"g":"Eweme-Ewe","v":"e"},{"f2":1975,"f1":610,"g":"Eweme-Ewe","v":"e"},{"f2":1985,"f1":635,"g":"Eweme-Ewe","v":"e"},{"f2":1990,"f1":655,"g":"Eweme-Ewe","v":"e"},{"f2":2000,"f1":620,"g":"Eweme-Ewe","v":"e"},{"f2":2010,"f1":640,"g":"Eweme-Ewe","v":"e"},{"f2":2028,"f1":666,"g":"Eweme-Ewe","v":"e"},{"f2":2035,"f1":615,"g":"Eweme-Ewe","v":"e"},{"f2":2050,"f1":630,"g":"Eweme-Ewe","v":"e"},{"f2":2060,"f1":650,"g":"Eweme-Ewe","v":"e"},{"f2":2080,"f1":610,"g":"Eweme-Ewe","v":"e"},{"f2":1880,"f1":670,"g":"Eweme-Ewe","v":"e"},{"f2":1860,"f1":655,"g":"Eweme-Ewe","v":"e"},{"f2":1840,"f1":625,"g":"Eweme-Ewe","v":"e"},{"f2":1820,"f1":640,"g":"Eweme-Ewe","v":"e"},{"f2":1800,"f1":615,"g":"Eweme-Ewe","v":"e"},{"f2":1780,"f1":630,"g":"Eweme-Ewe","v":"e"},{"f2":1764,"f1":680,"g":"Eweme-Ewe","v":"e"},{"f2":1736,"f1":632,"g":"Eweme-Ewe","v":"e"},{"f2":1720,"f1":610,"g":"Eweme-Ewe","v":"e"},{"f2":1700,"f1":625,"g":"Eweme-Ewe","v":"e"},{"f2":1695,"f1":638,"g":"Eweme-Ewe","v":"e"},{"f2":1677,"f1":687,"g":"Eweme-Ewe","v":"e"},{"f2":1898,"f1":698,"g":"Eweme-Ewe","v":"e"},{"f2":1876,"f1":696,"g":"Eweme-Ewe","v":"e"},{"f2":1843,"f1":711,"g":"Eweme-Ewe","v":"e"},{"f2":1838,"f1":716,"g":"Eweme-Ewe","v":"e"},{"f2":1881,"f1":718,"g":"Eweme-Ewe","v":"e"},{"f2":1946,"f1":750,"g":"Eweme-Ewe","v":"e"},{"f2":1131,"f1":463,"g":"Eweme-Ewe","v":"e"},
{"f2":1915,"f1":642,"g":"Eweme-Ewe","v":"e"},{"f2":1935,"f1":665,"g":"Eweme-Ewe","v":"e"},{"f2":1985,"f1":648,"g":"Eweme-Ewe","v":"e"},{"f2":2045,"f1":655,"g":"Eweme-Ewe","v":"e"},{"f2":1905,"f1":685,"g":"Eweme-Ewe","v":"e"},{"f2":1862,"f1":630,"g":"Eweme-Ewe","v":"e"},{"f2":1830,"f1":648,"g":"Eweme-Ewe","v":"e"},{"f2":2015,"f1":668,"g":"Eweme-Ewe","v":"e"},
{"f2":1362,"f1":388,"g":"Eweme-Ewe","v":"a"},{"f2":1533,"f1":368,"g":"Eweme-Ewe","v":"a"},{"f2":1522,"f1":407,"g":"Eweme-Ewe","v":"a"},{"f2":1563,"f1":395,"g":"Eweme-Ewe","v":"a"},{"f2":1577,"f1":400,"g":"Eweme-Ewe","v":"a"},{"f2":1403,"f1":447,"g":"Eweme-Ewe","v":"a"},{"f2":1459,"f1":441,"g":"Eweme-Ewe","v":"a"},{"f2":1401,"f1":469,"g":"Eweme-Ewe","v":"a"},{"f2":1408,"f1":485,"g":"Eweme-Ewe","v":"a"},{"f2":1448,"f1":470,"g":"Eweme-Ewe","v":"a"},{"f2":1459,"f1":489,"g":"Eweme-Ewe","v":"a"},{"f2":1494,"f1":494,"g":"Eweme-Ewe","v":"a"},{"f2":1456,"f1":515,"g":"Eweme-Ewe","v":"a"},{"f2":1500,"f1":525,"g":"Eweme-Ewe","v":"a"},{"f2":1490,"f1":519,"g":"Eweme-Ewe","v":"a"},{"f2":1513,"f1":518,"g":"Eweme-Ewe","v":"a"},{"f2":1484,"f1":531,"g":"Eweme-Ewe","v":"a"},{"f2":1459,"f1":517,"g":"Eweme-Ewe","v":"a"},{"f2":1555,"f1":509,"g":"Eweme-Ewe","v":"a"},{"f2":1357,"f1":549,"g":"Eweme-Ewe","v":"a"},{"f2":1474,"f1":554,"g":"Eweme-Ewe","v":"a"},{"f2":1411,"f1":558,"g":"Eweme-Ewe","v":"a"},{"f2":1513,"f1":573,"g":"Eweme-Ewe","v":"a"},{"f2":1477,"f1":583,"g":"Eweme-Ewe","v":"a"},{"f2":1508,"f1":593,"g":"Eweme-Ewe","v":"a"},{"f2":1464,"f1":596,"g":"Eweme-Ewe","v":"a"},{"f2":1439,"f1":596,"g":"Eweme-Ewe","v":"a"},{"f2":1401,"f1":596,"g":"Eweme-Ewe","v":"a"},{"f2":1484,"f1":607,"g":"Eweme-Ewe","v":"a"},{"f2":1472,"f1":620,"g":"Eweme-Ewe","v":"a"},{"f2":1525,"f1":628,"g":"Eweme-Ewe","v":"a"},{"f2":1401,"f1":639,"g":"Eweme-Ewe","v":"a"},{"f2":1459,"f1":654,"g":"Eweme-Ewe","v":"a"},{"f2":1464,"f1":663,"g":"Eweme-Ewe","v":"a"},{"f2":1604,"f1":654,"g":"Eweme-Ewe","v":"a"},{"f2":1596,"f1":660,"g":"Eweme-Ewe","v":"a"},{"f2":1601,"f1":722,"g":"Eweme-Ewe","v":"a"},{"f2":1555,"f1":682,"g":"Eweme-Ewe","v":"a"},{"f2":1632,"f1":628,"g":"Eweme-Ewe","v":"a"},{"f2":1480,"f1":609,"g":"Eweme-Ewe","v":"a"},{"f2":1517,"f1":474,"g":"Eweme-Ewe","v":"a"},{"f2":1489,"f1":475,"g":"Eweme-Ewe","v":"a"},{"f2":1548,"f1":494,"g":"Eweme-Ewe","v":"a"},{"f2":1540,"f1":498,"g":"Eweme-Ewe","v":"a"},{"f2":1530,"f1":490,"g":"Eweme-Ewe","v":"a"},{"f2":1547,"f1":505,"g":"Eweme-Ewe","v":"a"},{"f2":1520,"f1":513,"g":"Eweme-Ewe","v":"a"},{"f2":1508,"f1":521,"g":"Eweme-Ewe","v":"a"},{"f2":1505,"f1":533,"g":"Eweme-Ewe","v":"a"},{"f2":1464,"f1":528,"g":"Eweme-Ewe","v":"a"},{"f2":1517,"f1":541,"g":"Eweme-Ewe","v":"a"},{"f2":1571,"f1":395,"g":"Eweme-Ewe","v":"a"},{"f2":1558,"f1":430,"g":"Eweme-Ewe","v":"a"},{"f2":1566,"f1":424,"g":"Eweme-Ewe","v":"a"},{"f2":1550,"f1":433,"g":"Eweme-Ewe","v":"a"},{"f2":1500,"f1":545,"g":"Eweme-Ewe","v":"a"},{"f2":1530,"f1":540,"g":"Eweme-Ewe","v":"a"},{"f2":1545,"f1":560,"g":"Eweme-Ewe","v":"a"},{"f2":1590,"f1":470,"g":"Eweme-Ewe","v":"a"},{"f2":1600,"f1":540,"g":"Eweme-Ewe","v":"a"},{"f2":1620,"f1":590,"g":"Eweme-Ewe","v":"a"},{"f2":1612,"f1":610,"g":"Eweme-Ewe","v":"a"},{"f2":1640,"f1":560,"g":"Eweme-Ewe","v":"a"},{"f2":1585,"f1":620,"g":"Eweme-Ewe","v":"a"},{"f2":1565,"f1":600,"g":"Eweme-Ewe","v":"a"},{"f2":1598,"f1":445,"g":"Eweme-Ewe","v":"a"},{"f2":1517,"f1":478,"g":"Eweme-Ewe","v":"a"},{"f2":1492,"f1":493,"g":"Eweme-Ewe","v":"a"},{"f2":1497,"f1":497,"g":"Eweme-Ewe","v":"a"}
]},
"encoding":{
"x":{"field":"f2","type":"quantitative","scale":{"domain":[670,2429],"reverse":true,"nice":false,"zero":false},
 "axis":{"title":"F2/S(F2)","values":[1000,1500,2000],"format":"d","grid":false,"domain":false,"tickSize":5,"tickColor":"#777","labelFontSize":11,"labelColor":"#333","labelPadding":3,"titleFontSize":9.5,"titleFontWeight":"normal","titleColor":"#333","titlePadding":11}},
"y":{"field":"f1","type":"quantitative","scale":{"domain":[185,815],"reverse":true,"nice":false,"zero":false},
 "axis":{"title":"F1/S(F1)","values":[200,300,400,500,600,700,800],"format":"d","grid":false,"domain":false,"tickSize":5,"tickColor":"#777","labelFontSize":11,"labelColor":"#333","labelAngle":270,"labelAlign":"center","labelBaseline":"bottom","labelPadding":5,"titleFontSize":9.5,"titleFontWeight":"normal","titleColor":"#333","titlePadding":10}},
"color":{"field":"g","type":"nominal","scale":{"domain":["Anglo-Ewe","Eweme-Ewe"],"range":["#FF0000","#0000FF"]},
 "legend":{"title":null,"orient":"bottom-left","offset":6,"padding":5,"strokeColor":"#555","fillColor":"white","labelFontSize":7,"symbolOpacity":0,"symbolStrokeWidth":0,"symbolSize":25,"labelOffset":3,"rowPadding":0.3,
  "encode":{"labels":{"update":{"fill":{"signal":"scale('color', datum.value)"}}}}}}
},
"layer":[
{"transform":[{"filter":"datum.v === 'i'"}],"mark":{"type":"point","shape":"square","filled":false,"size":20,"strokeWidth":0.8,"opacity":1}},
{"transform":[{"filter":"datum.v !== 'i'"}],"mark":{"type":"point","filled":true,"opacity":1},
 "encoding":{"shape":{"field":"v","type":"nominal","scale":{"domain":["e","a"],"range":["circle","triangle-up"]},"legend":null},
 "size":{"field":"v","type":"ordinal","scale":{"domain":["e","a"],"range":[20,24]},"legend":null}}}
]
}
